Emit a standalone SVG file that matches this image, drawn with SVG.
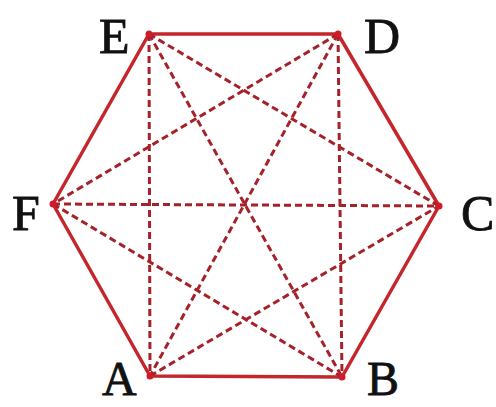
<svg xmlns="http://www.w3.org/2000/svg" width="496" height="407" viewBox="0 0 496 407">
<style>
.edge{stroke:#c4262c;stroke-width:3.5;fill:none;stroke-linecap:round;stroke-linejoin:round}
.diag{stroke:#a5222a;stroke-width:3;fill:none;stroke-dasharray:7 4}
.lbl{font-family:"Liberation Serif",serif;font-size:50px;fill:#111;stroke:#111;stroke-width:0.8}
.low{font-size:48px}
</style>
<rect width="496" height="407" fill="#ffffff"/>
<g id="connectors">
<polygon class="edge" points="149,34 338,34 439,206 342,377 150,376 53,204"/>
<line class="diag" x1="149" y1="34" x2="150" y2="376"/>
<line class="diag" x1="338" y1="34" x2="342" y2="377"/>
<line class="diag" x1="53" y1="204" x2="439" y2="206"/>
<line class="diag" x1="149" y1="34" x2="439" y2="206"/>
<line class="diag" x1="149" y1="34" x2="342" y2="377"/>
<line class="diag" x1="338" y1="34" x2="53" y2="204"/>
<line class="diag" x1="338" y1="34" x2="150" y2="376"/>
<line class="diag" x1="53" y1="204" x2="342" y2="377"/>
<line class="diag" x1="150" y1="376" x2="439" y2="206"/>
</g>
<g id="E"><circle cx="149" cy="34" r="3.5" fill="#d01c2a"/><text class="lbl" x="99" y="53">E</text></g>
<g id="D"><circle cx="338" cy="34" r="3.5" fill="#d01c2a"/><text class="lbl" x="364" y="53">D</text></g>
<g id="C"><circle cx="439" cy="206" r="3.5" fill="#d01c2a"/><text class="lbl" x="461" y="230">C</text></g>
<g id="B"><circle cx="342" cy="377" r="3.5" fill="#d01c2a"/><text class="lbl low" x="367" y="395">B</text></g>
<g id="A"><circle cx="150" cy="376" r="3.5" fill="#d01c2a"/><text class="lbl low" x="102" y="395">A</text></g>
<g id="F"><circle cx="53" cy="204" r="3.5" fill="#d01c2a"/><text class="lbl" x="12" y="230">F</text></g>
</svg>
